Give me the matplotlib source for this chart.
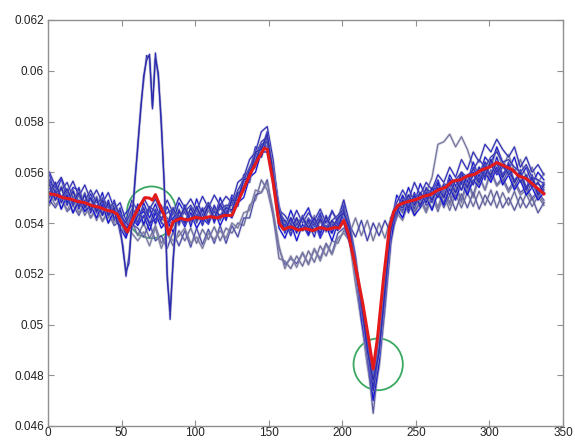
import matplotlib
matplotlib.use("Agg")
import matplotlib.pyplot as plt
from matplotlib.patches import Ellipse
import numpy as np

# values are in units of 1e-5
x_grid = list(range(1, 338, 4))
x_spike = list(range(1, 46, 4)) + list(range(47, 90, 2)) + list(range(93, 338, 4))

a1 = [5590, 5510, 5575, 5495, 5540, 5530, 5470, 5515, 5460, 5520,
      5430, 5490, 5415, 5440, 5470, 5395, 5480, 5420, 5475, 5410,
      5465, 5405, 5480, 5440, 5410, 5495, 5430, 5470, 5415, 5500,
      5440, 5510, 5490, 5590, 5600, 5700, 5690, 5760, 5620, 5470,
      5380, 5450, 5390, 5420, 5460, 5385, 5440, 5370, 5450, 5400,
      5470, 5360, 5260, 5050, 4920, 4760, 4880, 5140, 5390, 5510,
      5470, 5540, 5480, 5555, 5500, 5520, 5570, 5510, 5590, 5545,
      5600, 5560, 5640, 5580, 5660, 5630, 5700, 5640, 5610, 5660,
      5580, 5620, 5555, 5600, 5570]
a2 = [5500, 5560, 5480, 5525, 5470, 5540, 5460, 5495, 5440, 5500,
      5465, 5410, 5460, 5350, 5440, 5400, 5460, 5390, 5455, 5400,
      5380, 5445, 5395, 5470, 5405, 5450, 5390, 5465, 5410, 5470,
      5415, 5490, 5465, 5565, 5560, 5670, 5660, 5730, 5570, 5400,
      5410, 5350, 5420, 5370, 5400, 5345, 5430, 5380, 5360, 5420,
      5420, 5380, 5200, 5110, 4910, 4790, 4920, 5100, 5360, 5430,
      5500, 5440, 5510, 5470, 5530, 5480, 5555, 5500, 5570, 5520,
      5590, 5535, 5560, 5620, 5570, 5650, 5600, 5580, 5640, 5560,
      5600, 5530, 5580, 5510, 5550]
a3 = [5480, 5530, 5455, 5510, 5440, 5490, 5445, 5470, 5420, 5475,
      5400, 5450, 5380, 5340, 5420, 5390, 5430, 5370, 5440, 5380,
      5410, 5365, 5430, 5385, 5440, 5380, 5420, 5395, 5450, 5390,
      5440, 5420, 5480, 5500, 5580, 5600, 5680, 5680, 5560, 5380,
      5340, 5400, 5330, 5395, 5350, 5405, 5340, 5390, 5330, 5400,
      5400, 5320, 5220, 5020, 4880, 4700, 4850, 5080, 5330, 5460,
      5420, 5490, 5430, 5460, 5500, 5450, 5520, 5470, 5535, 5490,
      5560, 5510, 5570, 5540, 5600, 5560, 5620, 5550, 5590, 5530,
      5570, 5510, 5540, 5490, 5520]
a4 = [5600, 5545, 5580, 5520, 5565, 5505, 5550, 5490, 5530, 5480,
      5520, 5455, 5480, 5410, 5490, 5445, 5500, 5455, 5495, 5440,
      5490, 5440, 5500, 5460, 5495, 5450, 5505, 5460, 5510, 5470,
      5505, 5480, 5560, 5580, 5650, 5680, 5760, 5780, 5650, 5450,
      5430, 5395, 5450, 5400, 5440, 5410, 5455, 5400, 5445, 5410,
      5490, 5400, 5270, 5090, 4960, 4800, 4930, 5160, 5420, 5480,
      5530, 5490, 5560, 5510, 5560, 5530, 5590, 5560, 5620, 5580,
      5650, 5610, 5680, 5640, 5710, 5680, 5730, 5690, 5660, 5700,
      5620, 5660, 5600, 5630, 5590]
a5 = [5560, 5490, 5540, 5470, 5530, 5455, 5515, 5440, 5500, 5430,
      5490, 5415, 5450, 5380, 5400, 5475, 5395, 5460, 5400, 5470,
      5390, 5460, 5400, 5470, 5385, 5465, 5405, 5480, 5400, 5475,
      5410, 5500, 5470, 5580, 5570, 5680, 5660, 5740, 5600, 5440,
      5360, 5420, 5360, 5430, 5355, 5420, 5350, 5430, 5360, 5415,
      5460, 5350, 5240, 5060, 4890, 4740, 4890, 5120, 5400, 5450,
      5510, 5450, 5520, 5460, 5540, 5490, 5560, 5500, 5575, 5520,
      5600, 5540, 5620, 5560, 5640, 5580, 5660, 5590, 5630, 5560,
      5610, 5540, 5590, 5520, 5560]
a6 = [5520, 5545, 5480, 5530, 5465, 5510, 5450, 5495, 5440, 5480,
      5420, 5465, 5400, 5370, 5445, 5410, 5450, 5395, 5440, 5405,
      5375, 5440, 5390, 5455, 5400, 5460, 5395, 5450, 5410, 5465,
      5420, 5480, 5480, 5530, 5600, 5620, 5700, 5700, 5560, 5410,
      5395, 5360, 5400, 5370, 5410, 5365, 5405, 5370, 5400, 5375,
      5440, 5340, 5200, 5060, 4870, 4650, 4860, 5110, 5350, 5470,
      5440, 5500, 5445, 5480, 5510, 5455, 5520, 5460, 5510, 5450,
      5515, 5460, 5520, 5455, 5510, 5470, 5525, 5460, 5500, 5450,
      5505, 5460, 5500, 5440, 5480]
a7 = [5535, 5545, 5500, 5490, 5525, 5480, 5470, 5500, 5455, 5440,
      5470, 5420, 5435, 5400, 5380, 5430, 5445, 5400, 5415, 5450,
      5400, 5420, 5445, 5395, 5440, 5425, 5460, 5410, 5445, 5430,
      5460, 5450, 5510, 5540, 5610, 5650, 5700, 5720, 5590, 5410,
      5390, 5410, 5380, 5375, 5415, 5400, 5360, 5410, 5395, 5370,
      5440, 5370, 5230, 5080, 4910, 4760, 4900, 5130, 5380, 5450,
      5490, 5470, 5500, 5515, 5480, 5530, 5540, 5505, 5555, 5570,
      5530, 5590, 5600, 5570, 5610, 5630, 5590, 5620, 5600, 5570,
      5590, 5570, 5540, 5555, 5530]
a8 = [5570, 5520, 5530, 5560, 5500, 5515, 5485, 5530, 5480, 5495,
      5460, 5480, 5430, 5400, 5455, 5435, 5420, 5465, 5445, 5420,
      5440, 5455, 5420, 5445, 5470, 5430, 5445, 5480, 5440, 5455,
      5470, 5470, 5530, 5570, 5620, 5665, 5720, 5740, 5605, 5440,
      5410, 5380, 5395, 5425, 5385, 5395, 5420, 5380, 5410, 5430,
      5455, 5385, 5250, 5070, 4940, 4780, 4910, 5150, 5400, 5470,
      5475, 5510, 5500, 5490, 5535, 5520, 5510, 5555, 5545, 5570,
      5600, 5580, 5610, 5650, 5620, 5660, 5680, 5640, 5650, 5620,
      5600, 5630, 5580, 5570, 5555]
b1 = [5470, 5520, 5455, 5500, 5440, 5490, 5430, 5475, 5410, 5465,
      5400, 5445, 5380, 5360, 5410, 5350, 5400, 5340, 5390, 5320,
      5360, 5310, 5370, 5330, 5380, 5320, 5375, 5335, 5385, 5330,
      5380, 5360, 5400, 5390, 5470, 5490, 5570, 5530, 5430, 5260,
      5250, 5220, 5270, 5230, 5290, 5245, 5310, 5270, 5330, 5320,
      5370, 5340, 5170, 5030, 4850, 4720, 4840, 5090, 5330, 5450,
      5420, 5485, 5430, 5490, 5440, 5505, 5445, 5510, 5450, 5515,
      5460, 5520, 5465, 5525, 5470, 5530, 5460, 5520, 5470, 5525,
      5460, 5515, 5465, 5505, 5470]
b2 = [5490, 5460, 5500, 5445, 5470, 5430, 5480, 5420, 5455, 5410,
      5440, 5390, 5410, 5350, 5395, 5380, 5345, 5400, 5330, 5350,
      5300, 5365, 5310, 5370, 5305, 5380, 5315, 5375, 5320, 5390,
      5320, 5390, 5345, 5420, 5420, 5510, 5520, 5570, 5430, 5300,
      5235, 5260, 5240, 5280, 5240, 5295, 5260, 5320, 5280, 5360,
      5380, 5350, 5200, 5020, 4880, 4730, 4870, 5080, 5360, 5420,
      5480, 5450, 5470, 5500, 5450, 5520, 5460, 5530, 5480, 5550,
      5490, 5570, 5510, 5590, 5530, 5610, 5550, 5580, 5530, 5570,
      5520, 5540, 5500, 5520, 5490]
b3 = [5520, 5470, 5505, 5450, 5495, 5440, 5480, 5420, 5465, 5405,
      5450, 5400, 5430, 5385, 5360, 5330, 5365, 5310, 5380, 5300,
      5360, 5330, 5350, 5380, 5320, 5345, 5300, 5360, 5335, 5370,
      5340, 5400, 5380, 5440, 5450, 5530, 5520, 5560, 5450, 5310,
      5220, 5270, 5225, 5285, 5235, 5300, 5250, 5315, 5275, 5340,
      5360, 5330, 5160, 5010, 4840, 4710, 4830, 5060, 5320, 5440,
      5410, 5480, 5430, 5500, 5445, 5510, 5460, 5520, 5470, 5540,
      5480, 5560, 5500, 5580, 5530, 5600, 5545, 5570, 5520, 5560,
      5510, 5530, 5490, 5515, 5480]
c1 = [5560, 5500, 5545, 5490, 5530, 5470, 5520, 5455, 5505, 5445,
      5485, 5425, 5450, 5375, 5445, 5420, 5460, 5400, 5450, 5420,
      5395, 5460, 5400, 5470, 5405, 5465, 5410, 5475, 5415, 5470,
      5425, 5495, 5490, 5580, 5590, 5690, 5680, 5750, 5610, 5420,
      5370, 5420, 5365, 5425, 5370, 5430, 5365, 5425, 5375, 5420,
      5490, 5360, 5420, 5350, 5410, 5330, 5400, 5340, 5420, 5440,
      5500, 5460, 5510, 5470, 5520, 5580, 5710, 5720, 5750, 5700,
      5740, 5690, 5620, 5570, 5640, 5620, 5690, 5620, 5670, 5600,
      5650, 5580, 5620, 5560, 5595]
c2 = [5500, 5545, 5490, 5520, 5470, 5510, 5465, 5495, 5445, 5485,
      5430, 5470, 5400, 5410, 5380, 5450, 5390, 5450, 5395, 5445,
      5420, 5390, 5455, 5395, 5460, 5400, 5455, 5405, 5460, 5410,
      5465, 5440, 5520, 5525, 5610, 5630, 5700, 5705, 5580, 5440,
      5400, 5370, 5410, 5375, 5420, 5370, 5410, 5365, 5405, 5380,
      5460, 5390, 5345, 5410, 5330, 5400, 5350, 5410, 5360, 5470,
      5450, 5510, 5455, 5520, 5470, 5490, 5530, 5480, 5550, 5500,
      5570, 5520, 5600, 5550, 5620, 5570, 5640, 5560, 5610, 5540,
      5590, 5510, 5565, 5500, 5540]
s1 = [5550, 5490, 5540, 5480, 5525, 5465, 5510, 5450, 5495, 5430, 5480, 5420,
      5420, 5360, 5310, 5190, 5270, 5390, 5570, 5690, 5860, 5960, 6060,
      6050, 5860, 6070, 5970, 5810, 5540, 5210, 5020, 5260, 5390, 5450,
      5400, 5460, 5410, 5455, 5400, 5470, 5420, 5460, 5450, 5520,
      5530, 5610, 5640, 5710, 5720, 5610, 5410, 5410, 5370, 5420,
      5370, 5410, 5365, 5415, 5370, 5410, 5380, 5450, 5350, 5230,
      5060, 4920, 4740, 4900, 5110, 5390, 5440, 5490, 5460, 5510,
      5470, 5520, 5490, 5540, 5500, 5560, 5520, 5570, 5540, 5590,
      5560, 5610, 5590, 5640, 5580, 5620, 5560, 5600, 5530, 5580,
      5510, 5550]
s2 = [5520, 5560, 5500, 5535, 5480, 5520, 5460, 5500, 5445, 5490, 5430, 5460,
      5400, 5390, 5290, 5210, 5240, 5410, 5550, 5710, 5840, 5980, 6040,
      6065, 5850, 6050, 5990, 5780, 5560, 5180, 5050, 5240, 5420, 5420,
      5460, 5410, 5465, 5415, 5470, 5420, 5475, 5430, 5490, 5490,
      5570, 5580, 5680, 5690, 5750, 5590, 5450, 5370, 5420, 5375,
      5420, 5380, 5420, 5375, 5425, 5380, 5420, 5440, 5380, 5210,
      5090, 4900, 4780, 4890, 5140, 5370, 5470, 5460, 5510, 5470,
      5520, 5480, 5540, 5500, 5550, 5510, 5570, 5530, 5590, 5550,
      5620, 5580, 5650, 5600, 5630, 5590, 5610, 5560, 5590, 5540,
      5560, 5520]

x_red = [1, 6, 10, 15, 20, 25, 30, 35, 40, 44, 47, 50, 54, 58, 62, 66, 69, 71,
         73, 76, 79, 82, 85, 90, 95, 100, 105, 110, 115, 120, 125, 128, 133,
         138, 143, 147, 149, 153, 157, 160, 165, 170, 175, 180, 185, 190, 195,
         198, 201, 204, 207, 210, 214, 218, 221, 224, 228, 232, 235, 238, 242,
         245, 250, 255, 260, 265, 270, 275, 280, 285, 290, 295, 300, 305, 310,
         315, 320, 325, 330, 337]
y_red = [5515, 5510, 5500, 5495, 5485, 5480, 5468, 5462, 5450, 5445, 5435, 5400,
         5365, 5420, 5465, 5500, 5498, 5490, 5512, 5470, 5430, 5355, 5405, 5418,
         5412, 5422, 5418, 5425, 5420, 5430, 5430, 5470, 5535, 5600, 5655, 5695,
         5690, 5560, 5400, 5375, 5385, 5372, 5378, 5370, 5382, 5375, 5382, 5380,
         5410, 5360, 5280, 5200, 5080, 4940, 4825, 4950, 5180, 5380, 5445, 5470,
         5480, 5485, 5492, 5505, 5512, 5530, 5540, 5565, 5570, 5585, 5592, 5610,
         5620, 5638, 5625, 5612, 5585, 5575, 5550, 5515]

circle_x = [70.4, 224.4]
circle_y = [0.05442, 0.04843]

grid_traces = [b1, b2, b3, a6, c1, c2, a1, a2, a3, a4, a5, a7, a8]
spike_traces = [s1, s2]

plt.rcParams['font.family'] = ['Liberation Sans', 'DejaVu Sans']
fig = plt.figure(figsize=(5.75, 4.41), dpi=100)
ax = fig.add_axes([48 / 575, 15 / 441, 515 / 575, 406 / 441])

blues = ['#6a6a9a', '#4a4aa8', '#7a7aa0', '#5a5a9c', '#74749e', '#4040aa',
         '#1a1ad0', '#2a2ac0', '#1010d8', '#3030b8', '#1e1ec8', '#2020cc',
         '#3636b4']
for tr, col in zip(grid_traces, blues):
    y = np.array(tr) / 1e5
    ax.plot(x_grid, y, color='#9c9cbc', lw=2.0, alpha=0.35)
    ax.plot(x_grid, y, color=col, lw=0.9)
for tr in spike_traces:
    y = np.array(tr) / 1e5
    ax.plot(x_spike, y, color='#9c9cbc', lw=2.0, alpha=0.35)
    ax.plot(x_spike, y, color='#2a2ab0', lw=0.9)

ax.plot(x_red, np.array(y_red) / 1e5, color='#e41a1a', lw=2.2)

for cx, cy in zip(circle_x, circle_y):
    ax.add_patch(Ellipse((cx, cy), 33.5, 0.00204, fill=False,
                         edgecolor='#3aa860', lw=1.3))

ax.set_xlim(0, 350)
ax.set_ylim(0.046, 0.062)
ax.set_xticks(range(0, 351, 50))
ax.set_yticks([0.046, 0.048, 0.05, 0.052, 0.054, 0.056, 0.058, 0.06, 0.062])
ax.set_yticklabels(['0.046', '0.048', '0.05', '0.052', '0.054', '0.056',
                    '0.058', '0.06', '0.062'])
ax.tick_params(direction='in', top=True, right=True, length=4, width=0.8,
               color='#909090', labelsize=8.5, labelcolor='#222222', pad=3)
ax.tick_params(axis='x', pad=1)
for sp in ax.spines.values():
    sp.set_color('#909090')
    sp.set_linewidth(1.0)

fig.savefig('out.png', dpi=100)
